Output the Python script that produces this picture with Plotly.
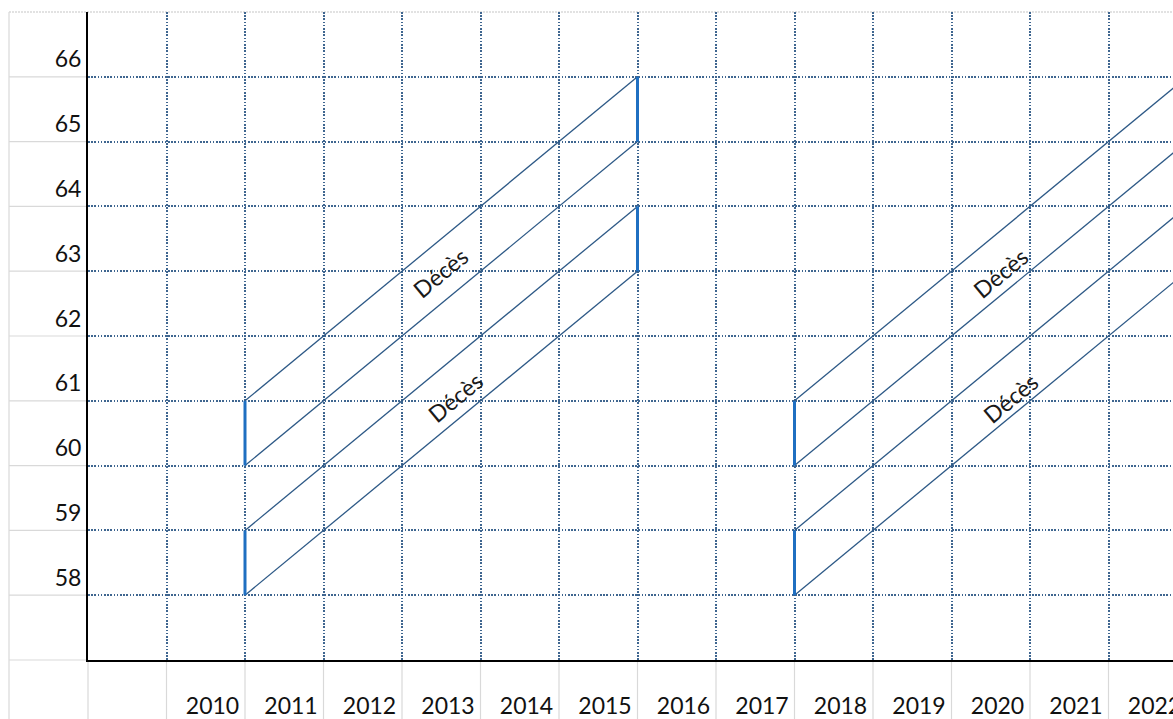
import plotly.graph_objects as go

# ---- data ----
ages = [58, 59, 60, 61, 62, 63, 64, 65, 66]
years = [2010, 2011, 2012, 2013, 2014, 2015, 2016, 2017, 2018, 2019, 2020, 2021, 2022]
grid_years = [2009, 2010, 2011, 2012, 2013, 2014, 2015, 2016, 2017, 2018, 2019, 2020, 2021]

diag_start_ages = [58, 59, 60, 61]
group_a = (2010, 2015)
group_b = (2017, 2022)

# vertical (blue) segments: (year, age_from, age_to)
seg_year = [2010, 2010, 2015, 2015, 2017, 2017]
seg_from = [58, 60, 63, 65, 58, 60]
seg_to = [59, 61, 64, 66, 59, 61]

# "Décès" labels
lab_x = [2012.48, 2012.68, 2019.62, 2019.75]
lab_y = [62.98, 61.06, 62.98, 61.05]
lab_text = ["Décès", "Décès", "Décès", "Décès"]

# ---- layout constants ----
X0, X1 = 2008, 2008 + 1085 / 78.5
Y0, Y1 = 57, 67
GRID_COLOR = "#3f6690"
DIAG_COLOR = "#2d5986"
BLUE = "#1f6fc1"
SHEET = "#d9d9d9"
FONT = "Lato"

fig = go.Figure()

for (ys, ye) in [group_a, group_b]:
    for a in diag_start_ages:
        fig.add_trace(go.Scatter(
            x=[ys, ye], y=[a, a + (ye - ys)], mode="lines",
            line=dict(color=DIAG_COLOR, width=1.3),
            hoverinfo="skip", showlegend=False, cliponaxis=True))

for yr, a0, a1 in zip(seg_year, seg_from, seg_to):
    fig.add_trace(go.Scatter(
        x=[yr, yr], y=[a0, a1], mode="lines",
        line=dict(color=BLUE, width=3),
        hoverinfo="skip", showlegend=False))

for x, y, t in zip(lab_x, lab_y, lab_text):
    fig.add_annotation(x=x, y=y, xref="x", yref="y", text=t, showarrow=False,
                       textangle=-39.6, font=dict(family=FONT, size=23, color="#1a1a1a"))

# spreadsheet cell lines (outside the chart area)
W, H = 1085, 648
left_px = 9
lx = (left_px - 88) / W
by = -(59 + 5) / H
shapes = []
shapes.append(dict(type="line", xref="paper", yref="paper", x0=lx, x1=lx, y0=by, y1=1,
                   line=dict(color=SHEET, width=1.2), layer="below"))
shapes.append(dict(type="line", xref="paper", yref="paper", x0=lx, x1=1, y0=1, y1=1,
                   line=dict(color=SHEET, width=1.5, dash="2px,1px"), layer="below"))
for v in [57] + ages:
    py = (v - Y0) / (Y1 - Y0)
    shapes.append(dict(type="line", xref="paper", yref="paper", x0=lx, x1=0, y0=py, y1=py,
                       line=dict(color=SHEET, width=1.2), layer="below"))
for yr in [2008] + grid_years:
    px = (yr - X0) / (X1 - X0)
    shapes.append(dict(type="line", xref="paper", yref="paper", x0=px, x1=px, y0=0, y1=by,
                       line=dict(color=SHEET, width=1.2), layer="below"))

fig.update_layout(
    width=1173, height=719,
    margin=dict(l=88, r=0, t=12, b=59, pad=0),
    paper_bgcolor="white", plot_bgcolor="white",
    showlegend=False,
    shapes=shapes,
    font=dict(family=FONT, size=23, color="#1a1a1a"),
    xaxis=dict(
        range=[X0, X1], showgrid=False, zeroline=False, automargin=False,
        showline=True, linecolor="black", linewidth=2,
        tickmode="array", tickvals=[y - 0.414 for y in years], ticktext=[str(y) for y in years],
        ticks="", ticklabelstandoff=24, ticklabeloverflow="allow",
        tickfont=dict(family=FONT, size=23, color="#111111"),
        minor=dict(tickmode="array", tickvals=grid_years, showgrid=True,
                   griddash="1.6px,1.6px", gridcolor=GRID_COLOR, gridwidth=1.6, ticks=""),
    ),
    yaxis=dict(
        range=[Y0, Y1], showgrid=False, zeroline=False, automargin=False,
        showline=True, linecolor="black", linewidth=2,
        tickmode="array", tickvals=[a + 0.27 for a in ages], ticktext=[str(a) for a in ages],
        ticks="", ticklabelstandoff=0,
        tickfont=dict(family=FONT, size=23, color="#111111"),
        minor=dict(tickmode="array", tickvals=ages, showgrid=True,
                   griddash="1.6px,1.6px", gridcolor=GRID_COLOR, gridwidth=1.6, ticks=""),
    ),
)

fig.write_html(
    "out.html",
    config={"displayModeBar": False},
    post_script="document.body.style.margin='0';document.body.style.overflow='hidden';",
)
